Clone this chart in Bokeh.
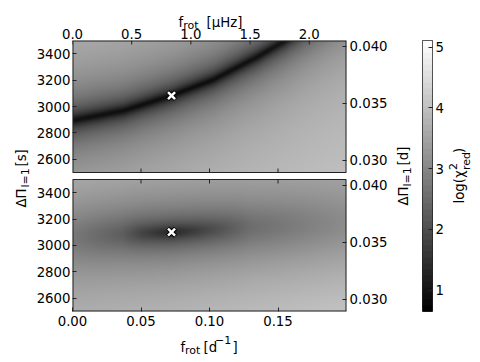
import numpy as np
from bokeh.plotting import figure
from bokeh.models import (LinearColorMapper, LinearAxis, Range1d, FixedTicker,
                          PrintfTickFormatter)
from bokeh.core.properties import value
from bokeh.layouts import row, column
from bokeh.embed import file_html
from bokeh.resources import INLINE

# ---------------- data ----------------
frot_range = [0.0, 0.2]          # d^-1
dp_range = [2500, 3500]          # s

# top panel: valley of log(chi2_red) along a curve
top_ridge_frot = [0.0, 0.037, 0.072, 0.103, 0.135, 0.155, 0.2]
top_ridge_dp = [2894, 2968, 3083, 3205, 3378, 3500, 3815]
top_ridge_min = [0.95, 0.92, 0.88, 0.90, 0.95, 1.00, 1.05]
top_bg = [3.89, 4.08, 3.95, 3.96]       # corners: BL, BR, TL, TR
top_width = 700

# bottom panel: elongated minimum
bot_ridge_frot = [0.0, 0.036, 0.05, 0.072, 0.1, 0.13, 0.2]
bot_ridge_dp = [3060, 3085, 3092, 3101, 3120, 3140, 3180]
bot_ridge_min = [2.75, 2.31, 1.87, 1.35, 1.96, 2.57, 3.10]
bot_bg = [4.08, 4.36, 4.10, 4.08]
bot_width = 760

best_frot = [0.0723, 0.0723]
best_dp = [3083, 3101]

frot_ticks = [0.0, 0.05, 0.10, 0.15]
muhz_ticks = [0.0, 0.5, 1.0, 1.5, 2.0]
dp_ticks = [2600, 2800, 3000, 3200, 3400]
day_ticks = [0.030, 0.035, 0.040]
cbar_ticks = [1, 2, 3, 4, 5]
cbar_range = [0.65, 5.11]

MUHZ_PER_INVDAY = 1e6 / 86400.0
SEC_PER_DAY = 86400.0
MU_MAX = frot_range[1] * MUHZ_PER_INVDAY

# ---------------- layout constants ----------------
GAP = 53                 # panel gap in seconds-units (7 px)
OFF = (dp_range[1] - dp_range[0]) + GAP
FONT = "DejaVu Sans"
FS = "13.3px"
FSS = "11px"
R = np.pi / 2
EC = "#222222"


def field(rf, rdp, rmin, bg, w, nx=274, ny=132):
    f = np.linspace(frot_range[0], frot_range[1], nx)
    d = np.linspace(dp_range[0], dp_range[1], ny)
    F, D = np.meshgrid(f, d)
    r = np.interp(F, rf, rdp)
    vmin = np.interp(F, rf, rmin)
    tx = (F - frot_range[0]) / (frot_range[1] - frot_range[0])
    ty = (D - dp_range[0]) / (dp_range[1] - dp_range[0])
    b = (bg[0] * (1 - tx) * (1 - ty) + bg[1] * tx * (1 - ty)
         + bg[2] * (1 - tx) * ty + bg[3] * tx * ty)
    x2 = ((D - r) / w) ** 2
    eps = 10 ** (vmin - b)
    return b + np.log10((eps + x2) / (1 + x2))


gray = ["#%02x%02x%02x" % (i, i, i) for i in range(256)]
mapper = LinearColorMapper(palette=gray, low=cbar_range[0], high=cbar_range[1])

# ---------------- main figure (page y 40..332, x 32..392) ----------------
p = figure(width=360, height=292, output_backend="svg", toolbar_location=None,
           x_range=Range1d(*frot_range), y_range=Range1d(dp_range[0], dp_range[1] + OFF),
           min_border_left=40, min_border_right=46, min_border_top=0, min_border_bottom=21)
p.frame_align = False
p.outline_line_color = None
p.grid.visible = False

p.image(image=[field(bot_ridge_frot, bot_ridge_dp, bot_ridge_min, bot_bg, bot_width)],
        x=frot_range[0], y=dp_range[0], dw=frot_range[1] - frot_range[0],
        dh=dp_range[1] - dp_range[0], color_mapper=mapper)
p.image(image=[field(top_ridge_frot, top_ridge_dp, top_ridge_min, top_bg, top_width)],
        x=frot_range[0], y=dp_range[0] + OFF, dw=frot_range[1] - frot_range[0],
        dh=dp_range[1] - dp_range[0], color_mapper=mapper)

# panel borders
x0, x1 = frot_range
for base in (0, OFF):
    y0, y1 = dp_range[0] + base, dp_range[1] + base
    p.segment(x0=[x0, x1], y0=[y0, y0], x1=[x0, x1], y1=[y1, y1], line_color=EC, line_width=2)
p.segment(x0=[x0, x0], y0=[dp_range[0], dp_range[1] + OFF],
          x1=[x1, x1], y1=[dp_range[0], dp_range[1] + OFF], line_color=EC, line_width=2)
p.segment(x0=[x0, x0], y0=[dp_range[1], dp_range[0] + OFF],
          x1=[x1, x1], y1=[dp_range[1], dp_range[0] + OFF], line_color=EC, line_width=1)

# inner edge tick marks (d^-1 positions)
tk = 30
inner_x = [t for t in frot_ticks if t > 0]
p.segment(x0=inner_x, y0=[dp_range[0] + OFF] * len(inner_x), x1=inner_x,
          y1=[dp_range[0] + OFF + tk] * len(inner_x), line_color=EC, line_width=1)
p.segment(x0=inner_x, y0=[dp_range[1]] * len(inner_x), x1=inner_x,
          y1=[dp_range[1] - tk] * len(inner_x), line_color=EC, line_width=1)

# top edge tick marks (muHz positions)
p.extra_x_ranges = {"muhz": Range1d(0, MU_MAX)}
top_y = dp_range[1] + OFF
p.segment(x0=muhz_ticks, y0=[top_y] * len(muhz_ticks), x1=muhz_ticks,
          y1=[top_y - tk] * len(muhz_ticks), line_color=EC, line_width=1, x_range_name="muhz")

# best-fit markers
my = [best_dp[0] + OFF, best_dp[1]]
p.scatter(x=best_frot, y=my, marker="x", size=11, line_color="black", line_width=4.5)
p.scatter(x=best_frot, y=my, marker="x", size=10, line_color="white", line_width=2.5)


def style_axis(ax):
    ax.axis_line_color = None
    ax.major_tick_in = 4
    ax.major_tick_out = 0
    ax.major_tick_line_color = EC
    ax.minor_tick_line_color = None
    ax.major_label_text_font = FONT
    ax.major_label_text_font_size = FS
    ax.major_label_text_color = "black"


xa = p.xaxis[0]
xa.ticker = FixedTicker(ticks=frot_ticks)
xa.formatter = PrintfTickFormatter(format="%.2f")
style_axis(xa)
xa.major_label_standoff = 4

ya = p.yaxis[0]
left_ticks = dp_ticks + [t + OFF for t in dp_ticks]
ya.ticker = FixedTicker(ticks=left_ticks)
ov = {t: str(t) for t in dp_ticks}
ov.update({t + OFF: str(t) for t in dp_ticks})
ya.major_label_overrides = ov
style_axis(ya)
ya.major_label_standoff = 2

day_s = [int(round(t * SEC_PER_DAY)) for t in day_ticks]
ra = LinearAxis(ticker=FixedTicker(ticks=day_s + [t + OFF for t in day_s]))
ovr = {t: "%.3f" % d for t, d in zip(day_s, day_ticks)}
ovr.update({t + OFF: "%.3f" % d for t, d in zip(day_s, day_ticks)})
ra.major_label_overrides = ovr
style_axis(ra)
ra.major_label_standoff = 3
p.add_layout(ra, "right")


# ---------------- label strips (page-pixel coordinates) ----------------
def strip(x0, y0, w, h, xr=None):
    f = figure(width=w, height=h, output_backend="svg", toolbar_location=None,
               x_range=xr if xr is not None else Range1d(x0, x0 + w),
               y_range=Range1d(-(y0 + h), -y0),
               x_axis_location=None, y_axis_location=None,
               min_border_left=0, min_border_right=0, min_border_top=0, min_border_bottom=0)
    f.frame_align = False
    f.grid.visible = False
    f.outline_line_color = None
    return f


def txt(fig, s, x, y, size=FS, angle=0.0, baseline="alphabetic", align="left", rn="default"):
    xs = x if isinstance(x, list) else [x]
    ys = y if isinstance(y, list) else [y]
    fig.text(x=xs, y=[-v for v in ys], text=s if isinstance(s, list) else [s], angle=angle,
             text_font=value(FONT), text_font_size=value(size), text_align=align,
             text_baseline=baseline, text_color="black", x_range_name=rn)


# top strip: muHz tick labels via a muHz scale aligned with the panels, plus axis title
k = 274.0 / MU_MAX   # px per muHz
T = strip(32, 0, 360, 40, xr=Range1d(-40.0 / k, MU_MAX + 46.0 / k))
T.extra_x_ranges = {"px": Range1d(32, 392)}
txt(T, ["%.1f" % t for t in muhz_ticks], muhz_ticks, [33] * len(muhz_ticks), align="center")
txt(T, "f", 178, 21.5, rn="px")
txt(T, "rot", 182.7, 25, FSS, rn="px")
txt(T, "[µHz]", 206, 21.5, rn="px")

B = strip(32, 332, 360, 28)
txt(B, "f", 180, 347)
txt(B, "rot", 184.5, 350, FSS)
txt(B, "[d", 203, 347)
txt(B, "−1", 214.5, 339, FSS)
txt(B, "]", 232, 347)

L = strip(0, 0, 32, 360)
txt(L, "ΔΠ", 20.5, 207, angle=R, baseline="middle")
txt(L, "l=1", 25, 187, FSS, angle=R, baseline="middle")
txt(L, "[s]", 20.5, 166, angle=R, baseline="middle")

RL = strip(392, 0, 30, 360)
txt(RL, "ΔΠ", 402.5, 205, angle=R, baseline="middle")
txt(RL, "l=1", 407, 186, FSS, angle=R, baseline="middle")
txt(RL, "[d]", 402.5, 165, angle=R, baseline="middle")

# ---------------- colorbar (page x 422..446) ----------------
c = figure(width=24, height=360, output_backend="svg", toolbar_location=None,
           x_range=Range1d(0, 1), y_range=Range1d(*cbar_range),
           x_axis_location=None, y_axis_location="right",
           min_border_left=0, min_border_right=12, min_border_top=40, min_border_bottom=49)
c.frame_align = False
c.grid.visible = False
c.outline_line_color = EC
nb = 45
step = (cbar_range[1] - cbar_range[0]) / nb
bands = cbar_range[0] + step * (np.arange(nb) + 0.5)
c.image(image=[bands.reshape(-1, 1)], x=0, y=cbar_range[0], dw=1,
        dh=cbar_range[1] - cbar_range[0], color_mapper=mapper)
cy = c.yaxis[0]
cy.ticker = FixedTicker(ticks=cbar_ticks)
style_axis(cy)
cy.major_label_standoff = 3

CLb = strip(446, 0, 32, 360)
txt(CLb, "log(χ", 459, 203, angle=R, baseline="middle")
txt(CLb, "2", 452, 169.5, FSS, angle=R, baseline="middle")
txt(CLb, "red", 466, 169.5, FSS, angle=R, baseline="middle")
txt(CLb, ")", 459, 152.5, angle=R, baseline="middle")

layout = row(L, column(T, p, B), RL, c, CLb)
open("out.html", "w").write(file_html(layout, INLINE))
